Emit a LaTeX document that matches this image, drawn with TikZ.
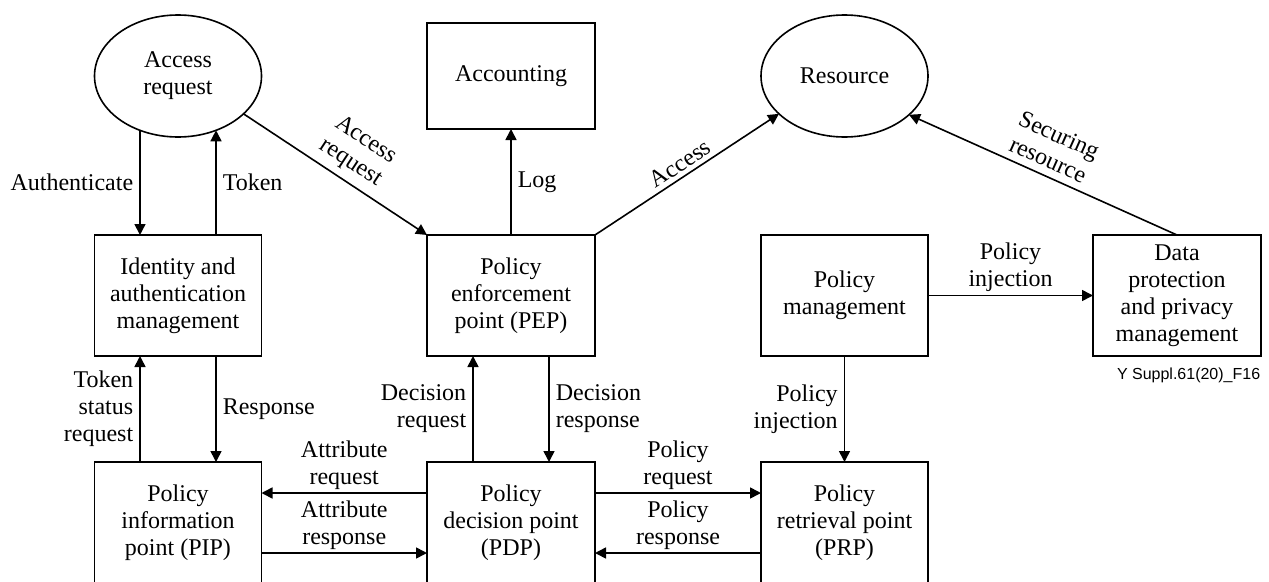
\documentclass[tikz,border=0pt]{standalone}
\usepackage{fontspec}
\setmainfont{Liberation Serif}
\newfontfamily\figsans{Liberation Sans}
\usetikzlibrary{arrows.meta,shapes.geometric}
\begin{document}
\begin{tikzpicture}[x=1pt,y=-1pt,
  font=\fontsize{24}{27}\selectfont,
  line width=1.6pt,
  box/.style={draw, rectangle, minimum width=167pt, minimum height=121pt,
              align=center, inner sep=2pt, outer sep=0pt},
  oval/.style={draw, ellipse, minimum width=167pt, minimum height=122pt,
               align=center, inner sep=0pt, outer sep=0pt},
  arr/.style={-{Triangle[length=11pt,width=11pt]}},
  lbl/.style={inner sep=2pt, align=center},
]
\useasboundingbox (0,0) rectangle (1269,581);

% top row
\node[oval] (ar) at (178,76) {Access\\request};
\node[box, minimum width=168pt, minimum height=106pt] (acc) at (511,76) {Accounting};
\node[oval] (res) at (844.5,76) {Resource};

% middle row
\node[box] (iam) at (178,295.5) {Identity and\\authentication\\management};
\node[box, minimum width=168pt] (pep) at (511,295.5) {Policy\\enforcement\\point (PEP)};
\node[box] (pm) at (844.5,295.5) {Policy\\management};
\node[box, minimum width=168pt] (dp) at (1177,295.5) {Data\\protection\\and privacy\\management};
\node[anchor=base east, inner sep=0pt, font=\figsans\fontsize{16}{18}\selectfont]
  (figid) at ([yshift=-23pt]dp.south east) {Y Suppl.61(20)\_F16};

% bottom row
\node[box, anchor=north] (pip) at (178,462) {Policy\\information\\point (PIP)};
\node[box, anchor=north, minimum width=168pt] (pdp) at (511,462) {Policy\\decision point\\(PDP)};
\node[box, anchor=north] (prp) at (844.5,462) {Policy\\retrieval point\\(PRP)};

% access request and identity
\draw[arr] (ar.235) -- (ar.235 |- iam.north)
  node[lbl, midway, left=4pt] (lauth) {Authenticate};
\draw[arr] (ar.305 |- iam.north) -- (ar.305)
  node[lbl, midway, right=4pt] (ltok) {Token};
\draw[arr] (ar.-30) -- (pep.north west)
  node[lbl, pos=0.53, sloped, above=5pt] (lacr) {Access\\request};

% enforcement point
\draw[arr] (pep.north) -- (acc.south)
  node[lbl, midway, right=4pt] (llog) {Log};
\draw[arr] (pep.north east) -- (res.210)
  node[lbl, pos=0.5, sloped, above=2pt] (lacc) {Access};

% securing the resource
\draw[arr] (dp.north) -- (res.-31);
\path (res.-31) -- (dp.north)
  node[lbl, pos=0.495, sloped, above=5pt] (lsec) {Securing\\resource};

% identity and information point
\draw[arr] ([xshift=-38pt]pip.north) -- ([xshift=-38pt]iam.south)
  node[lbl, midway, left=4pt, align=right] (ltsr) {Token\\status\\request};
\draw[arr] ([xshift=38pt]iam.south) -- ([xshift=38pt]pip.north)
  node[lbl, midway, right=4pt] (lresp) {Response};

% attributes
\draw[arr] ([yshift=-31pt]pdp.north west) -- ([yshift=-31pt]pip.north east)
  node[lbl, midway, above=1pt] (latq) {Attribute\\request};
\draw[arr] ([yshift=-91pt]pip.north east) -- ([yshift=-91pt]pdp.north west)
  node[lbl, midway, above=1pt] (latr) {Attribute\\response};

% decisions
\draw[arr] ([xshift=-38pt]pdp.north) -- ([xshift=-38pt]pep.south)
  node[lbl, midway, left=4pt, align=right] (ldq) {Decision\\request};
\draw[arr] ([xshift=38pt]pep.south) -- ([xshift=38pt]pdp.north)
  node[lbl, midway, right=4pt, align=left] (ldr) {Decision\\response};

% policies
\draw[arr] ([yshift=-31pt]pdp.north east) -- ([yshift=-31pt]prp.north west)
  node[lbl, midway, above=1pt] (lpq) {Policy\\request};
\draw[arr] ([yshift=-91pt]prp.north west) -- ([yshift=-91pt]pdp.north east)
  node[lbl, midway, above=1pt] (lpr) {Policy\\response};
\draw[arr] (pm.south) -- (prp.north)
  node[lbl, midway, left=4pt, align=right] (lpiv) {Policy\\injection};
\draw[arr] (pm.east) -- (dp.west)
  node[lbl, midway, above=1pt] (lpih) {Policy\\injection};
\end{tikzpicture}
\end{document}
